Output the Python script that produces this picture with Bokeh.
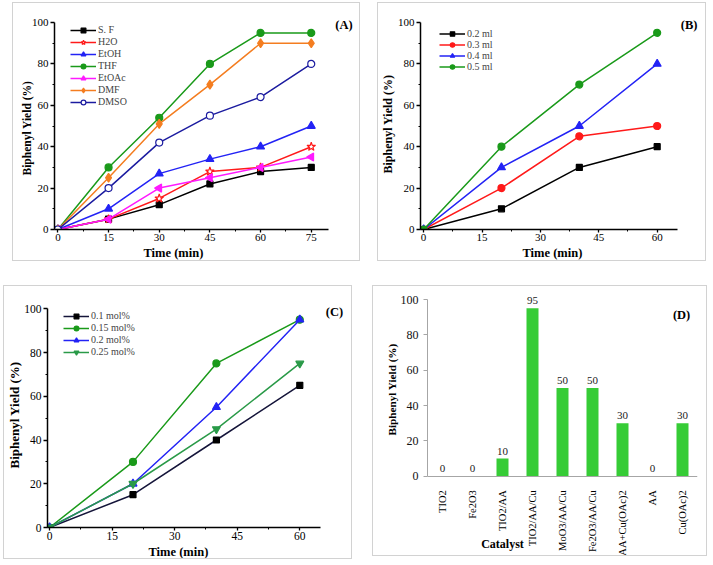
import math
from bokeh.plotting import figure
from bokeh.models import (Range1d, FixedTicker, Legend, LegendItem, Label, LabelSet,
                          ColumnDataSource, FactorRange, Title)
from bokeh.embed import file_html
from bokeh.resources import INLINE

FONT = "Liberation Serif"

# ---------------- data ----------------
# (A) solvent effect
time_a = [0, 15, 30, 45, 60, 75]
sf = [0, 5, 12, 22, 28, 30]
h2o = [0, 5, 15, 28, 30, 40]
etoh = [0, 10, 27, 34, 40, 50]
thf = [0, 30, 54, 80, 95, 95]
etoac = [0, 5, 20, 25, 30, 35]
dmf = [0, 25, 51, 70, 90, 90]
dmso = [0, 20, 42, 55, 64, 80]

# (B) volume
time_b = [0, 20, 40, 60]
ml_02 = [0, 10, 30, 40]
ml_03 = [0, 20, 45, 50]
ml_04 = [0, 30, 50, 80]
ml_05 = [0, 40, 70, 95]

# (C) catalyst loading
time_c = [0, 20, 40, 60]
mol_010 = [0, 15, 40, 65]
mol_015 = [0, 30, 75, 95]
mol_020 = [0, 20, 55, 95]
mol_025 = [0, 20, 45, 75]

# (D) catalysts
catalysts = ["TIO2", "Fe2O3", "TIO2/AA", "TIO2/AA/Cu", "MoO3/AA/Cu",
             "Fe2O3/AA/Cu", "AA+Cu(OAc)2", "AA", "Cu(OAc)2"]
yields_d = [0, 0, 10, 95, 50, 50, 30, 0, 30]

time_ticks = [0, 15, 30, 45, 60, 75]
time_minor = [7.5, 22.5, 37.5, 52.5, 67.5]
yield_ticks = [0, 20, 40, 60, 80, 100]
yield_minor = [10, 30, 50, 70, 90]

X_TITLE = "Time (min)"
Y_TITLE = "Biphenyl Yield (%)"


def place(p, left, top):
    p.styles = {"position": "absolute", "left": f"{left}px", "top": f"{top}px",
                "border": "1px solid #d2d2d2"}


def side_title(p, text, side, offset, size, standoff=0):
    p.add_layout(Title(text=text, align="left", offset=offset, standoff=standoff,
                       text_font=FONT, text_font_style="bold", text_font_size=size,
                       text_color="black"), side)


def line_panel(w, h, xr, xb, ytop, borders, xticks, xt_off, yt_off, yt_size,
               tick_size="11px", yt_standoff=0):
    p = figure(width=w, height=h, x_range=Range1d(*xr), y_range=Range1d(0, ytop),
               output_backend="svg", toolbar_location=None,
               min_border_left=borders[0], min_border_right=borders[1],
               min_border_top=borders[2], min_border_bottom=borders[3])
    p.outline_line_color = None
    p.xgrid.visible = False
    p.ygrid.visible = False
    for ax in (p.xaxis[0], p.yaxis[0]):
        ax.axis_line_width = 1.5
        ax.axis_line_color = "black"
        ax.major_tick_line_width = 1.3
        ax.minor_tick_line_width = 1.0
        ax.major_tick_in = 0
        ax.minor_tick_out = 2
        ax.minor_tick_in = 0
        ax.major_label_text_font = FONT
        ax.major_label_text_font_size = tick_size
        ax.major_label_text_color = "black"
    xa, ya = p.xaxis[0], p.yaxis[0]
    xa.major_tick_out = 3
    xa.major_label_standoff = 1
    ya.major_tick_out = 4
    ya.major_label_standoff = 2
    xa.bounds = xb
    ya.bounds = (0, 100)
    xa.ticker = FixedTicker(ticks=xticks, minor_ticks=[m for m in time_minor if m < xb[1]])
    ya.ticker = FixedTicker(ticks=yield_ticks, minor_ticks=yield_minor)
    side_title(p, X_TITLE, "below", xt_off, "12.5px")
    side_title(p, Y_TITLE, "left", yt_off, yt_size, yt_standoff)
    return p


def add_series(p, x, y, color, marker, label, size=7, fill=None, line_color=None, angle=0.0):
    l = p.line(x, y, line_color=line_color or color, line_width=1.5)
    s = p.scatter(x, y, marker=marker, size=size, fill_color=fill or color,
                  line_color=color, line_width=1.2, angle=angle)
    return LegendItem(label=label, renderers=[l, s])


def add_legend(p, items, loc, lh):
    lg = Legend(items=items, location=loc, background_fill_alpha=0,
                border_line_color=None, label_text_font=FONT,
                label_text_font_size="10px", label_text_line_height=1.0,
                glyph_width=26, glyph_height=lh,
                label_height=lh, spacing=0, padding=0, margin=0, label_standoff=2)
    p.add_layout(lg)


def tag(p, x, y, t):
    p.add_layout(Label(x=x, y=y, text=t, text_font=FONT, text_font_style="bold",
                       text_font_size="12.5px", text_align="center",
                       text_baseline="middle", text_color="black"))


# ---------------- (A) ----------------
pA = line_panel(348, 259, (-1, 87.8), (-1, 80), 103.4, (41, 7, 12, 33), time_ticks,
                89, 54, "11.5px", yt_standoff=-8)
itemsA = [
    add_series(pA, time_a, sf, "black", "square", "S. F", size=6),
    add_series(pA, time_a, h2o, "#ff1a1a", "star", "H2O", size=9, fill="white"),
    add_series(pA, time_a, etoh, "#2323f5", "triangle", "EtOH", size=8),
    add_series(pA, time_a, thf, "#1a9a1a", "circle", "THF", size=7),
    add_series(pA, time_a, etoac, "#ff1aff", "triangle", "EtOAc", size=8, angle=math.pi / 2),
    add_series(pA, time_a, dmf, "#f47d20", "diamond", "DMF", size=9),
    add_series(pA, time_a, dmso, "#1c1ca0", "circle", "DMSO", size=7, fill="white"),
]
add_legend(pA, itemsA, (16, 121.5), 12)
tag(pA, 84.7, 99, "(A)")
place(pA, 12, 2)

# ---------------- (B) ----------------
pB = line_panel(329, 259, (-0.8, 71.9), (-0.8, 65.3), 102.9, (37, 4, 13, 33), time_ticks[:5],
                102, 56, "12px")
itemsB = [
    add_series(pB, time_b, ml_02, "black", "square", "0.2 ml", size=6),
    add_series(pB, time_b, ml_03, "#ff1a1a", "circle", "0.3 ml", size=7),
    add_series(pB, time_b, ml_04, "#2323f5", "triangle", "0.4 ml", size=8),
    add_series(pB, time_b, ml_05, "#1a9a1a", "circle", "0.5 ml", size=7),
]
add_legend(pB, itemsB, (19, 157), 11)
tag(pB, 68.2, 98.6, "(B)")
place(pB, 377, 2)

# ---------------- (C) ----------------
pC = line_panel(349, 274, (-0.5, 71.2), (-0.5, 65), 102.4, (43, 7, 17, 33), time_ticks[:5],
                101, 59, "13px", tick_size="11.5px")
itemsC = [
    add_series(pC, time_c, mol_010, "black", "square", "0.1 mol%", size=6, line_color="#15153a"),
    add_series(pC, time_c, mol_015, "#1a9a1a", "circle", "0.15 mol%", size=7),
    add_series(pC, time_c, mol_020, "#2323f5", "triangle", "0.2 mol%", size=8),
    add_series(pC, time_c, mol_025, "#2a9a48", "inverted_triangle", "0.25 mol%", size=8),
]
add_legend(pC, itemsC, (16, 169.5), 12)
tag(pC, 68.3, 98.3, "(C)")
place(pC, 3, 285)

# ---------------- (D) ----------------
pD = figure(width=335, height=271, x_range=FactorRange(factors=catalysts, range_padding=0),
            y_range=Range1d(-45.4, 105.1), output_backend="svg", toolbar_location=None,
            min_border_left=54, min_border_right=11, min_border_top=4, min_border_bottom=1)
pD.outline_line_color = None
pD.xgrid.visible = False
pD.ygrid.visible = False
pD.vbar(x=catalysts, top=yields_d, width=0.4, fill_color="#36cc36", line_color=None)
srcD = ColumnDataSource(dict(x=catalysts, y=yields_d, t=[str(v) for v in yields_d]))
pD.add_layout(LabelSet(x="x", y="y", text="t", source=srcD, y_offset=4,
                       text_align="center", text_baseline="bottom",
                       text_font=FONT, text_font_size="11px", text_color="#222222"))
yaD = pD.yaxis[0]
yaD.bounds = (0, 100)
yaD.ticker = FixedTicker(ticks=yield_ticks)
yaD.axis_line_color = "#a6a6a6"
yaD.major_tick_line_color = "#a6a6a6"
yaD.major_tick_out = 4
yaD.major_tick_in = 0
yaD.minor_tick_line_color = None
yaD.major_label_text_font = FONT
yaD.major_label_text_font_size = "12px"
yaD.major_label_text_color = "#111111"
yaD.major_label_standoff = 5
side_title(pD, Y_TITLE, "left", 121, "11.2px")
xaD = pD.xaxis[0]
xaD.fixed_location = 0
xaD.axis_line_color = "#a6a6a6"
xaD.major_tick_line_color = None
xaD.minor_tick_line_color = None
xaD.major_label_orientation = math.pi / 2
xaD.major_label_text_font = FONT
xaD.major_label_text_font_size = "10.5px"
xaD.major_label_text_color = "black"
xaD.major_label_standoff = 8
pD.add_layout(Label(x=2.5, y=-38.1, text="Catalyst", text_font=FONT, text_font_style="bold",
                    text_font_size="12px", text_align="center", text_baseline="middle",
                    text_color="black"))
tag(pD, 8.47, 91.5, "(D)")
place(pD, 372, 285)

open("out.html", "w").write(file_html([pA, pB, pC, pD], INLINE))
